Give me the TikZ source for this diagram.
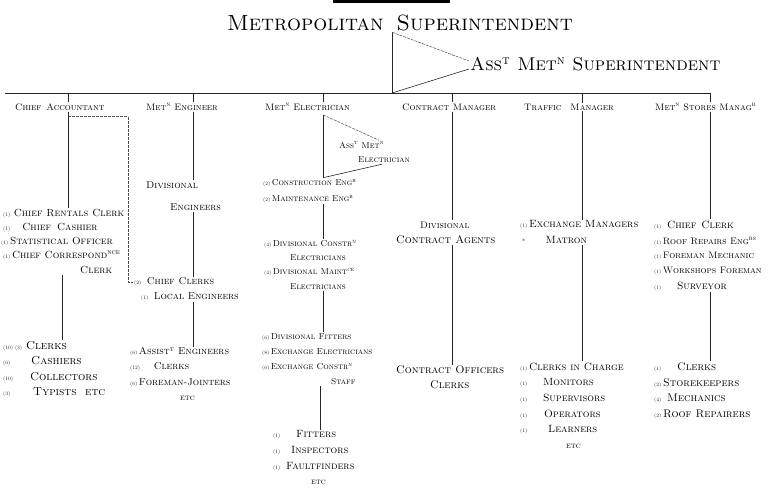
\documentclass[tikz,border=0pt]{standalone}
\usetikzlibrary{calc}
% superscript abbreviation marks and tiny staff counts
\newcommand\supx[1]{\textsuperscript{\scshape #1}}
\newcommand\pf[1]{{\fontsize{5}{5}\selectfont(#1)}\,}
\newcommand\fs[1]{\fontsize{#1}{#1}\selectfont}
\begin{document}
\begin{tikzpicture}[x=1pt,y=-1pt,
  every node/.style={inner sep=1pt},
  head/.style={anchor=west,font=\fs{9.4}\scshape},
  row/.style={anchor=west},
  link/.style={line width=0.6pt,black!85},
  faint/.style={line width=0.5pt,black!70,dash pattern=on 3pt off 1pt}]
\useasboundingbox (0,0) rectangle (768,488);

% rule above the title
\fill (333pt,0pt) rectangle (450pt,-2.6pt);

% ---- top of the chart
\node[anchor=west,font=\fs{22}\scshape] (title) at (226,23) {Metropolitan\hspace{13pt}Superintendent};
\node[anchor=west,font=\fs{18.5}\scshape] (asst) at (469,64) {Ass\supx{t} Met\supx{n} Superintendent};

\coordinate (vt) at (392,0);
\coordinate (hlw) at (5,93);
\coordinate (hle) at (710,93);
\coordinate (vx1) at (68,0);
\coordinate (vx1b) at (128,0);
\coordinate (vx1c) at (62,0);
\coordinate (vx2) at (193,0);
\coordinate (vx3) at (323,0);
\coordinate (vx3b) at (320,0);
\coordinate (vx4) at (452,0);
\coordinate (vx5) at (582,0);
\coordinate (vx6) at (710,0);

% ---- heads of department
\node[head] (ca) at (14,107) {Chief\hspace{5pt}Accountant};
\node[head] (me) at (145,107) {Met\supx{n} Engineer};
\node[head] (mel) at (264,107) {Met\supx{n} Electrician};
\node[head] (cm) at (401,107) {Contract Manager};
\node[head] (tm) at (523,107) {Traffic\hspace{9pt}Manager};
\node[head] (sm) at (654,107) {Met\supx{n} Stores Manag\supx{r}};

% ---- Chief Accountant
\begin{scope}[font=\fs{10.3}\scshape]
\node[row] (a1) at (2,213) {\pf{1}\,Chief Rentals Clerk};
\node[row] (a2) at (2,227) {\pf{1}\quad Chief\hspace{6pt}Cashier};
\node[row] (a3) at (0,241) {\pf{1}Statistical Officer};
\node[row] (a4) at (2,255) {\pf{1}Chief Correspond\supx{nce}};
\node[row] (a5) at (79,270) {Clerk};
\end{scope}
\begin{scope}[font=\fs{11.5}\scshape]
\node[row] (a6) at (2,346) {\pf{10}\pf{3}\hspace{2pt}Clerks};
\node[row] (a7) at (2,361) {\pf{6}\hspace{19pt}Cashiers};
\node[row] (a8) at (2,377) {\pf{10}\hspace{15pt}Collectors};
\node[row] (a9) at (2,392) {\pf{3}\hspace{21pt}Typists \ etc};
\end{scope}

% ---- Metropolitan Engineer
\begin{scope}[font=\fs{10}\scshape]
\node[row] (b1) at (145,185) {Divisional};
\node[row] (b2) at (169,207) {Engineers};
\node[row] (b3) at (133,282) {\pf{2}\ Chief\hspace{4pt}Clerks};
\node[row] (b4) at (140,297) {\pf{1}\ Local Engineers};
\node[row] (b5) at (129,352) {\pf{6}Assist\supx{t} Engineers};
\node[row] (b6) at (129,367) {\pf{12}\hspace{12pt}Clerks};
\node[row] (b7) at (129,383) {\pf{6}Foreman-Jointers};
\node[row,font=\fs{8.4}\scshape] (b8) at (179,398) {etc};
\end{scope}

% ---- Metropolitan Electrician
\begin{scope}[font=\fs{8.6}\scshape]
\node[row] (c1) at (338,145) {Ass\supx{t} Met\supx{n}};
\node[row] (c2) at (357,160) {Electrician};
\node[row] (c3) at (262,183) {\pf{2}Construction Eng\supx{r}};
\node[row] (c4) at (262,199) {\pf{2}Maintenance Eng\supx{r}};
\node[row] (c5) at (263,244) {\pf{4}Divisional Constr\supx{n}};
\node[row] (c6) at (289,258) {Electricians};
\node[row] (c7) at (263,272) {\pf{4}Divisional Maint\supx{ce}};
\node[row] (c8) at (289,287) {Electricians};
\node[row] (c9) at (261,337) {\pf{6}Divisional Fitters};
\node[row] (c10) at (261,352) {\pf{8}Exchange Electricians};
\node[row] (c11) at (261,367) {\pf{6}Exchange Constr\supx{n}};
\node[row] (c12) at (330,382) {Staff};
\end{scope}
\begin{scope}[font=\fs{10.5}\scshape]
\node[row] (c13) at (272,435) {\pf{1}\hspace{14pt}Fitters};
\node[row] (c14) at (272,451) {\pf{1}\hspace{9pt}Inspectors};
\node[row] (c15) at (272,467) {\pf{1}\ Faultfinders};
\node[row,font=\fs{8.4}\scshape] (c16) at (310,482) {etc};
\end{scope}

% ---- Contract Manager
\begin{scope}[font=\fs{11}\scshape]
\node[row,font=\fs{9.5}\scshape] (d1) at (419,225) {Divisional};
\node[row] (d2) at (395,240) {Contract Agents};
\node[row] (d3) at (395,370) {Contract Officers};
\node[row] (d4) at (429,385) {Clerks};
\end{scope}

% ---- Traffic Manager
\begin{scope}[font=\fs{10.5}\scshape]
\node[row] (e1) at (519,225) {\pf{1}Exchange Managers};
\node[row] (e2) at (521,240) {{\fs{6}*}\hspace{20pt}Matron};
\node[row] (e3) at (519,367) {\pf{1}Clerks in Charge};
\node[row] (e4) at (519,383) {\pf{1}\hspace{14pt}Monitors};
\node[row] (e5) at (519,398) {\pf{1}\hspace{14pt}Supervisors};
\node[row] (e6) at (519,414) {\pf{1}\hspace{15pt}Operators};
\node[row] (e7) at (519,430) {\pf{1}\hspace{19pt}Learners};
\node[row,font=\fs{8.4}\scshape] (e8) at (565,446) {etc};
\end{scope}

% ---- Metropolitan Stores Manager
\begin{scope}[font=\fs{9.4}\scshape]
\node[row,font=\fs{10.5}\scshape] (f1) at (653,225) {\pf{1}\ Chief\hspace{5pt}Clerk};
\node[row] (f2) at (653,241) {\pf{1}Roof Repairs Eng\supx{rs}};
\node[row] (f3) at (653,256) {\pf{1}Foreman Mechanic};
\node[row] (f4) at (653,271) {\pf{1}Workshops Foreman};
\node[row,font=\fs{10.5}\scshape] (f5) at (653,286) {\pf{1}\hspace{14pt}Surveyor};
\end{scope}
\begin{scope}[font=\fs{11}\scshape]
\node[row] (f6) at (653,367) {\pf{1}\hspace{14pt}Clerks};
\node[row] (f7) at (653,383) {\pf{2}Storekeepers};
\node[row] (f8) at (653,398) {\pf{4}\hspace{4pt}Mechanics};
\node[row] (f9) at (653,414) {\pf{2}Roof Repairers};
\end{scope}

% ---- connectors: superintendent and his assistant
\draw[link] (hlw) -- (hle);
\draw[link] (vt |- title.south) -- (vt |- hle);
\draw[faint] (vt |- title.south) -- ([yshift=3pt]asst.west);
\draw[link] (vt |- hle) -- ([yshift=-5pt]asst.west);

% ticks down to the heads of department
\foreach \v/\h in {vx1/ca,vx2/me,vx3/mel,vx4/cm,vx5/tm,vx6/sm}
  \draw[link] (\v |- hle) -- (\v |- \h.north);

% Chief Accountant
\draw[link] (vx1 |- ca.south) -- (vx1 |- a1.north);
\draw[faint] ([yshift=-5pt]vx1 |- ca.south) -| (vx1b |- b3.west) -- (b3.west);
\draw[link] (vx1c |- a5.south) -- (vx1c |- a6.north);

% Metropolitan Engineer
\draw[link] (vx2 |- me.south) -- (vx2 |- b1.north);
\draw[link] (vx2 |- b2.south) -- (vx2 |- b3.north);
\draw[link] (vx2 |- b4.south) -- (vx2 |- b5.north);

% Metropolitan Electrician and his assistant
\draw[link] ([yshift=-3pt]vx3 |- mel.south) -- (vx3 |- c3.north);
\draw[faint] ([yshift=-3pt]vx3 |- mel.south) -- ([xshift=-6pt]c1.north east);
\draw[link] (vx3 |- c3.north) -- ([xshift=-2pt]c2.south);
\draw[link] (vx3 |- c4.south) -- (vx3 |- c5.north);
\draw[link] (vx3 |- c8.south) -- (vx3 |- c9.north);
\draw[link] (vx3b |- c12.south) -- (vx3b |- c13.north);

% Contract Manager
\draw[link] (vx4 |- cm.south) -- (vx4 |- d1.north);
\draw[link] (vx4 |- d2.south) -- (vx4 |- d3.north);

% Traffic Manager
\draw[link] (vx5 |- tm.south) -- (vx5 |- e1.north);
\draw[link] (vx5 |- e2.south) -- (vx5 |- e3.north);

% Stores Manager
\draw[link] (vx6 |- sm.south) -- (vx6 |- f1.north);
\draw[link] (vx6 |- f5.south) -- (vx6 |- f6.north);
\end{tikzpicture}
\end{document}
